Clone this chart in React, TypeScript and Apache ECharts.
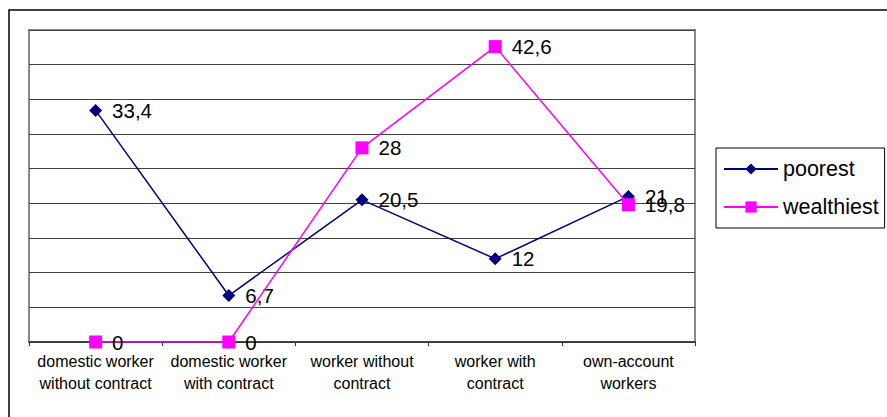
import React, { useEffect, useRef } from "react";
import * as echarts from "echarts";

const categories = [
  "domestic worker\nwithout contract",
  "domestic worker\nwith contract",
  "worker without\ncontract",
  "worker with\ncontract",
  "own-account\nworkers",
];
const poorest = [33.4, 6.7, 20.5, 12, 21];
const wealthiest = [0, 0, 28, 42.6, 19.8];

const FONT = "Liberation Sans, Arial, sans-serif";

const fmt = (p: any) => String(p.value).replace(".", ",");

export default function App() {
  const ref = useRef<HTMLDivElement>(null);
  useEffect(() => {
    document.body.style.margin = "0";
    const chart = echarts.init(ref.current!, null, { renderer: "svg" });
    chart.setOption({
      animation: false,
      backgroundColor: "#ffffff",
      textStyle: { fontFamily: FONT },
      graphic: [
        {
          type: "rect",
          shape: { x: 9, y: 10, width: 900, height: 420 },
          style: { fill: "none", stroke: "#000000", lineWidth: 1.5 },
          z: 100,
        },
      ],
      grid: {
        left: 29,
        top: 30,
        width: 666,
        height: 312,
        show: true,
        borderColor: "#888888",
        borderWidth: 2,
        containLabel: false,
      },
      legend: {
        orient: "vertical",
        left: 716,
        top: 148,
        itemWidth: 54,
        itemHeight: 14,
        itemGap: 16,
        padding: [10, 6, 10, 7],
        borderColor: "#000000",
        borderWidth: 1,
        textStyle: { fontFamily: FONT, fontSize: 21.5, color: "#000000" },
        data: ["poorest", "wealthiest"],
      },
      xAxis: {
        type: "category",
        data: categories,
        boundaryGap: true,
        axisLine: { lineStyle: { color: "#333333", width: 1.5 } },
        axisTick: { show: true, interval: 0, length: 4, lineStyle: { color: "#333333" } },
        axisLabel: {
          interval: 0,
          fontFamily: FONT,
          fontSize: 16,
          color: "#000000",
          lineHeight: 22,
          margin: 8,
        },
      },
      yAxis: {
        type: "value",
        min: 0,
        max: 45,
        interval: 5,
        axisLabel: { show: false },
        axisTick: { show: false },
        axisLine: { show: false },
        splitLine: { show: true, lineStyle: { color: "#404040", width: 1 } },
      },
      series: [
        {
          name: "poorest",
          type: "line",
          data: poorest,
          symbol: "diamond",
          symbolSize: 13,
          itemStyle: { color: "#000080" },
          lineStyle: { color: "#000080", width: 1.5 },
          label: {
            show: true,
            position: "right",
            distance: 10,
            fontFamily: FONT,
            fontSize: 20.5,
            color: "#000000",
            formatter: fmt,
          },
          z: 3,
        },
        {
          name: "wealthiest",
          type: "line",
          data: wealthiest,
          symbol: "rect",
          symbolSize: 13,
          itemStyle: { color: "#FF00FF" },
          lineStyle: { color: "#FF00FF", width: 1.5 },
          label: {
            show: true,
            position: "right",
            distance: 10,
            fontFamily: FONT,
            fontSize: 20.5,
            color: "#000000",
            formatter: fmt,
          },
          z: 4,
        },
      ],
    });
    return () => chart.dispose();
  }, []);
  return <div ref={ref} style={{ width: 887, height: 417 }} />;
}
